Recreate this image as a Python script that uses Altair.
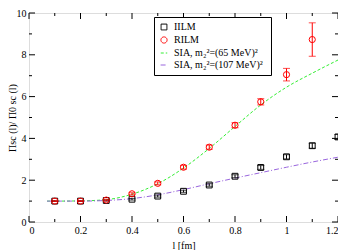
import altair as alt
import pandas as pd

# ---- data ----
l_iilm = [0.1, 0.2, 0.3, 0.4, 0.5, 0.6, 0.7, 0.8, 0.9, 1.0, 1.1, 1.2]
iilm = [1.0, 1.0, 1.03, 1.09, 1.24, 1.47, 1.77, 2.19, 2.61, 3.12, 3.65, 4.07]
iilm_err = [0.02, 0.02, 0.03, 0.04, 0.05, 0.05, 0.06, 0.07, 0.09, 0.10, 0.12, 0.12]

l_rilm = [0.1, 0.2, 0.3, 0.4, 0.5, 0.6, 0.7, 0.8, 0.9, 1.0, 1.1]
rilm = [1.0, 1.0, 1.05, 1.35, 1.85, 2.62, 3.58, 4.63, 5.75, 7.05, 8.73]
rilm_err = [0.02, 0.02, 0.04, 0.05, 0.07, 0.09, 0.10, 0.12, 0.15, 0.30, 0.80]

l_sia = [0.07, 0.1, 0.2, 0.3, 0.4, 0.5, 0.6, 0.7, 0.8, 0.9, 1.0, 1.1, 1.2]
sia65 = [1.0, 1.0, 1.01, 1.07, 1.33, 1.83, 2.58, 3.52, 4.57, 5.6, 6.45, 7.12, 7.75]
sia107 = [1.0, 1.0, 1.0, 1.03, 1.12, 1.3, 1.55, 1.83, 2.1, 2.36, 2.62, 2.87, 3.1]

series_names = ["IILM", "RILM", "SIA,  m\u2082\u00b2=(65 MeV)\u00b2", "SIA,  m\u2082\u00b2=(107 MeV)\u00b2"]
series_colors = ["#000000", "#ff0000", "#33ee33", "#9966dd"]

x_major = [0, 0.2, 0.4, 0.6, 0.8, 1.0, 1.2]
x_minor = [0.1, 0.3, 0.5, 0.7, 0.9, 1.1]
y_major = [0, 2, 4, 6, 8, 10]
y_minor = [1, 3, 5, 7, 9]

# ---- tables ----
iilm_df = pd.DataFrame({"l": l_iilm, "v": iilm,
                        "lo": [a - e for a, e in zip(iilm, iilm_err)],
                        "hi": [a + e for a, e in zip(iilm, iilm_err)]})
rilm_df = pd.DataFrame({"l": l_rilm, "v": rilm,
                        "lo": [a - e for a, e in zip(rilm, rilm_err)],
                        "hi": [a + e for a, e in zip(rilm, rilm_err)]})
pts = pd.DataFrame({
    "l": l_iilm + l_rilm,
    "v": iilm + rilm,
    "series": [series_names[0]] * len(l_iilm) + [series_names[1]] * len(l_rilm),
})
curves = pd.DataFrame({
    "l": l_sia + l_sia,
    "v": sia65 + sia107,
    "series": [series_names[2]] * len(l_sia) + [series_names[3]] * len(l_sia),
})

W, H = 309, 209
FONT = "Liberation Serif"

xs = alt.Scale(domain=[0, 1.2], nice=False, zero=False)
ys = alt.Scale(domain=[0, 10], nice=False, zero=False)

xaxis = alt.Axis(values=x_major, format="~g", ticks=False, domain=False, grid=False,
                 labelFont=FONT, labelFontSize=10, labelPadding=3, labelOverlap=False,
                 labelFlush=True,
                 labelColor="#000", title="l  [fm]", titleFont=FONT, titleFontSize=10,
                 titleFontWeight="normal", titlePadding=5, titleColor="#000")
yaxis = alt.Axis(values=y_major, ticks=False, domain=False, grid=False,
                 labelFont=FONT, labelFontSize=10, labelPadding=3, labelOverlap=False,
                 labelColor="#000", title="\u03a0sc (l)/ \u03a00 sc (l)", titleFont=FONT,
                 titleFontSize=10, titleFontWeight="normal", titleX=-12, titleColor="#000")

X = alt.X("l:Q", scale=xs, axis=xaxis)
Y = alt.Y("v:Q", scale=ys, axis=yaxis)

legend = alt.Legend(title=None, orient="none", legendX=125, legendY=4,
                    strokeColor="#000", fillColor="white", padding=5,
                    labelFont=FONT, labelFontSize=10, labelColor="#000", labelLimit=300,
                    symbolStrokeWidth=1, rowPadding=2, labelOffset=5,
                    symbolFillColor="transparent")

color = alt.Color("series:N", scale=alt.Scale(domain=series_names, range=series_colors), legend=legend)
shape = alt.Shape("series:N", scale=alt.Scale(domain=series_names,
                  range=["square", "circle", "stroke", "stroke"]), legend=legend)
size = alt.Size("series:N", scale=alt.Scale(domain=series_names, range=[34, 46, 225, 225]), legend=legend)
dash = alt.StrokeDash("series:N", scale=alt.Scale(domain=series_names,
                      range=[[1, 0], [1, 0], [3, 2], [5, 2, 1, 2]]), legend=legend)

lines = alt.Chart(curves).mark_line(strokeWidth=1, interpolate="monotone").encode(
    x=X, y=Y, color=color, strokeDash=dash, detail="series:N")


def err_layer(df, col):
    return alt.Chart(df).mark_errorbar(ticks={"size": 7, "thickness": 1}, thickness=1).encode(
        x=X, y=alt.Y("lo:Q", scale=ys, axis=yaxis), y2="hi:Q", color=alt.value(col))


points = alt.Chart(pts).mark_point(filled=False, fill="transparent", strokeWidth=1, opacity=1).encode(
    x=X, y=Y, color=color, shape=shape, size=size)


def tick_layer(vals, side, length):
    df = pd.DataFrame({"t": vals})
    base = alt.Chart(df).mark_rule(color="#000", strokeWidth=1)
    if side == "bottom":
        return base.encode(x=alt.X("t:Q", scale=xs, axis=xaxis), y=alt.value(H), y2=alt.value(H - length))
    if side == "top":
        return base.encode(x=alt.X("t:Q", scale=xs, axis=xaxis), y=alt.value(0), y2=alt.value(length))
    if side == "left":
        return base.encode(y=alt.Y("t:Q", scale=ys, axis=yaxis), x=alt.value(0), x2=alt.value(length))
    return base.encode(y=alt.Y("t:Q", scale=ys, axis=yaxis), x=alt.value(W), x2=alt.value(W - length))


tick_layers = []
for side in ["bottom", "top"]:
    tick_layers.append(tick_layer(x_major, side, 6))
    tick_layers.append(tick_layer(x_minor, side, 3))
for side in ["left", "right"]:
    tick_layers.append(tick_layer(y_major, side, 6))
    tick_layers.append(tick_layer(y_minor, side, 3))

chart = alt.layer(*tick_layers, lines, err_layer(iilm_df, "#000000"), err_layer(rilm_df, "#ff0000"),
                  points).properties(
    width=W, height=H,
    autosize=alt.AutoSizeParams(type="none"),
    padding={"left": 21, "top": 5, "right": 0, "bottom": 28},
).configure_view(stroke="#000", strokeWidth=1).configure(background="white")

chart.save("out.html", embed_options={"renderer": "svg", "actions": False})
